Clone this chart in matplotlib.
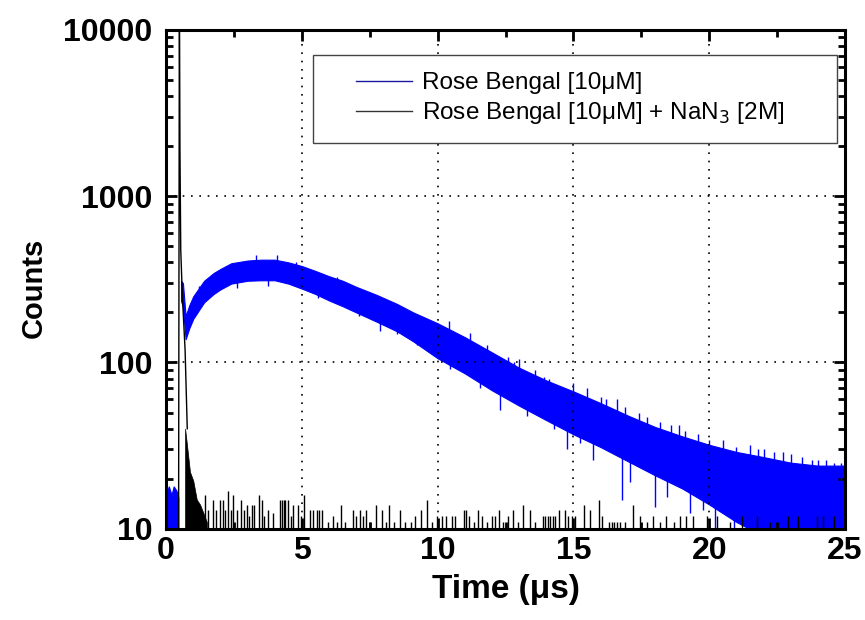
import numpy as np
import matplotlib
matplotlib.use('Agg')
import matplotlib.pyplot as plt
from matplotlib.patches import Rectangle
from matplotlib.ticker import LogLocator, FixedLocator, FixedFormatter, MultipleLocator, NullFormatter

plt.rcParams['font.family'] = ['Liberation Sans', 'DejaVu Sans']

# Rose Bengal alone: noise floor before the laser pulse (us, counts)
blue_pre_t = [0.0, 0.1, 0.2, 0.28, 0.38, 0.45]
blue_pre_hi = [16, 18, 16, 18, 17, 15.5]

# Rose Bengal alone: band of the noisy trace (upper / lower edge)
blue_t = [0.55, 0.62, 0.72, 0.85, 1.0, 1.4, 1.75, 2.0, 2.4, 3.0, 3.5, 4.0, 4.5,
          5.0, 5.5, 6.0, 6.5, 7.0, 7.75, 8.5, 9.1, 10.0, 11, 12, 13, 14, 15,
          16, 17, 18, 19, 20, 21, 22, 23, 24, 25]
blue_hi = [310, 300, 190, 220, 250, 310, 345, 365, 395, 410, 415, 415, 400,
           380, 355, 330, 310, 285, 255, 225, 200, 172, 142, 115, 93, 78, 67,
           57, 48, 41, 36, 32, 29, 27, 25, 24, 24]
blue_lo = [235, 215, 138, 160, 183, 230, 258, 275, 298, 310, 312, 312, 298,
           278, 258, 236, 218, 200, 176, 154, 134, 106, 86, 68, 55, 45, 37,
           31, 25.5, 21, 17.5, 14, 11, 9, 9, 9, 9]

# single spikes sticking out of the blue band
blue_spike_t = [1.2, 2.2, 2.6, 3.3, 3.77, 4.07, 4.8, 5.6, 6.3, 7.1, 7.88, 8.49,
                9.0, 9.23, 9.6, 10.4, 10.46, 11.2, 11.56, 12.3, 12.8, 13.0, 13.28,
                13.9, 14.3, 14.75, 15.0, 15.24, 15.73, 16.2, 16.6, 16.78, 17.08,
                17.4, 18.0, 18.43, 18.9, 19.3, 19.78, 20.2, 20.5, 20.9, 21.4,
                21.5, 22.0, 22.7, 23.77, 24.6,
                11.8, 12.6, 13.6, 14.1, 15.5, 16.0, 16.9, 17.7, 18.2, 18.6,
                19.1, 19.6, 20.0, 21.0, 21.8, 22.4, 23.0, 23.4, 24.0, 24.3,
                24.85]
blue_spike_bot = [250, 310, 280, 380, 290, 390, 355, 245, 290, 190, 155, 148, 150,
                  128, 160, 150, 92, 115, 70, 52, 85, 75, 48, 60, 40, 30, 55, 33,
                  26, 45, 45, 15, 19, 38, 13.5, 15.5, 30, 12.4, 13, 9, 25, 9, 9,
                  22, 22, 20, 20, 20,
                  95, 80, 65, 55, 52, 45, 40, 35, 32, 30,
                  28, 26, 24, 22, 20, 20, 19, 18, 18, 18,
                  18]
blue_spike_top = [290, 355, 325, 440, 330, 440, 400, 280, 325, 215, 195, 185, 170,
                  165, 180, 178, 125, 150, 95, 75, 100, 105, 62, 82, 52, 45, 75,
                  45, 38, 60, 60, 33, 30, 50, 25, 25, 42, 20, 20, 18, 34, 16, 15,
                  32, 30, 29, 26, 25,
                  128, 108, 90, 80, 70, 62, 54, 47, 44, 42,
                  39, 37, 34, 31, 30, 29, 28, 27, 26, 26,
                  25]

# Rose Bengal + NaN3: the fast spike and decay
black_t = [0.46, 0.49, 0.51, 0.54, 0.6, 0.7, 0.78]
black_v = [9, 20000, 2000, 475, 250, 119, 40]
black_fill_t = [0.7, 0.76, 0.88, 1.0, 1.13, 1.25, 1.37, 1.5]
black_fill_hi = [40, 33, 22, 19.5, 15, 14, 12.5, 11]

# Rose Bengal + NaN3: noise spikes above the floor
black_spike_t = [1.44, 1.55, 1.74, 1.85, 1.99, 2.09, 2.18, 2.27, 2.38, 2.48, 2.6,
                 2.76, 2.86, 2.97, 3.07, 3.15, 3.24, 3.42, 3.52, 3.62, 3.77, 3.95,
                 4.2, 4.27, 4.33, 4.38, 4.5, 4.6, 4.69, 4.87, 4.95, 5.06, 5.3,
                 5.42, 5.55, 5.64, 5.73, 5.95, 6.16, 6.3, 6.44, 6.6, 6.87, 7.0,
                 7.14, 7.25, 7.36, 7.5, 7.73, 7.96, 8.1, 8.22, 8.4, 8.62, 8.8,
                 9.0, 9.17, 9.38, 9.6, 9.8, 9.97, 10.15, 10.3, 10.52, 10.64,
                 10.97, 11.05, 11.17, 11.35, 11.5, 11.62, 11.8, 11.99, 12.11,
                 12.24, 12.4, 12.6, 12.79, 12.95, 13.13, 13.4, 13.6, 13.88,
                 13.95, 14.05, 14.15, 14.25, 14.32, 14.48, 14.69, 14.81, 14.93,
                 15.06, 15.4, 15.61, 15.94, 16.06, 16.3, 16.4, 16.5, 16.6,
                 16.73, 16.9, 17.18, 17.45, 17.7, 17.94, 18.2, 18.41, 18.7,
                 18.92, 19.15, 19.4, 19.9, 20.3, 20.77, 21.2, 21.75, 22.24,
                 22.9, 23.28, 23.96, 24.2, 24.6]
black_spike_h = [16, 13, 15, 13, 15, 15, 13, 17, 13, 16, 13,
                 15, 13, 14, 12, 14, 14, 16, 15, 12, 13, 12.5,
                 15, 15, 15, 15, 15, 12, 14, 14, 12, 16, 13,
                 13, 13, 13, 13, 11, 12, 11, 14, 11, 13, 12,
                 13, 12, 13, 11, 14, 13, 11, 14, 11, 13, 11,
                 11, 12, 13, 15, 11, 12, 12, 12, 12, 12,
                 13, 13, 12, 11, 13, 12, 11, 12, 12,
                 13, 11, 12, 13, 11, 14, 13, 11, 12,
                 12, 12, 12, 12, 12, 13, 13, 12, 12,
                 12, 14, 13, 15, 12, 11, 11, 11, 11,
                 11, 11, 14, 12, 11, 12, 11, 12, 11,
                 12, 12, 12, 12, 12, 11, 12, 12, 11,
                 12, 12, 12, 12, 12]

blue = '#0000ff'

fig = plt.figure(figsize=(8.65, 6.2), dpi=100)
ax = fig.add_axes([0.192, 0.147, 0.785, 0.805])

# blue trace
ax.fill_between(blue_pre_t, 9, blue_pre_hi, color=blue, lw=0.8, edgecolor=blue)
ax.fill_between(blue_t, blue_lo, blue_hi, color=blue, lw=0.8, edgecolor=blue)
ax.vlines(blue_spike_t, blue_spike_bot, blue_spike_top, color=blue, lw=1.0)
ax.plot([], [], color='#1a1aa0', lw=1.0, label='Rose Bengal [10\u03bcM]')

# black trace
ax.plot(black_t, black_v, color='black', lw=1.0)
ax.fill_between(black_fill_t, 9, black_fill_hi, color='black', lw=0.5)
ax.vlines(black_spike_t, 9, black_spike_h, color='black', lw=1.0)
ax.plot([], [], color='#333333', lw=1.0, label='Rose Bengal [10\u03bcM] + NaN$_3$ [2M]')

ax.set_yscale('log')
ax.set_xlim(0, 25)
ax.set_ylim(10, 10000)

ax.xaxis.set_major_locator(MultipleLocator(5))
ax.xaxis.set_minor_locator(MultipleLocator(2.5))
ax.yaxis.set_major_locator(FixedLocator([10, 100, 1000, 10000]))
ax.yaxis.set_major_formatter(FixedFormatter(['10', '100', '1000', '10000']))
ax.yaxis.set_minor_locator(LogLocator(base=10, subs=np.arange(2, 10)))
ax.yaxis.set_minor_formatter(NullFormatter())

ax.tick_params(which='both', direction='in', top=True, right=True)
ax.tick_params(which='major', length=8, width=2, labelsize=23)
ax.tick_params(axis='x', which='major', pad=5)
ax.tick_params(axis='y', which='major', pad=10)
ax.tick_params(which='minor', length=5, width=2)
for lab in ax.get_xticklabels() + ax.get_yticklabels():
    lab.set_fontweight('bold')
for sp in ax.spines.values():
    sp.set_linewidth(2.2)

ax.grid(True, which='major', color='black', linestyle=(0, (1, 4)), lw=1.2)

ax.set_xlabel('Time (\u03bcs)', fontsize=24, fontweight='bold', labelpad=6)
ax.set_ylabel('Counts', fontsize=21, fontweight='bold')
ax.yaxis.set_label_coords(-0.175, 0.483)

# legend frame drawn separately so the padding matches the original box
ax.add_patch(Rectangle((0.2165, 0.7735), 0.7715, 0.1765, transform=ax.transAxes,
                       facecolor='white', edgecolor='#444444', lw=1.0, zorder=4))
leg = ax.legend(loc='upper left', bbox_to_anchor=(0.28, 0.915), fontsize=17.5,
                frameon=False, handlelength=2.3, handletextpad=0.4,
                borderpad=0, labelspacing=0.25, borderaxespad=0)
leg.set_zorder(5)

fig.savefig('out.png', dpi=100)
